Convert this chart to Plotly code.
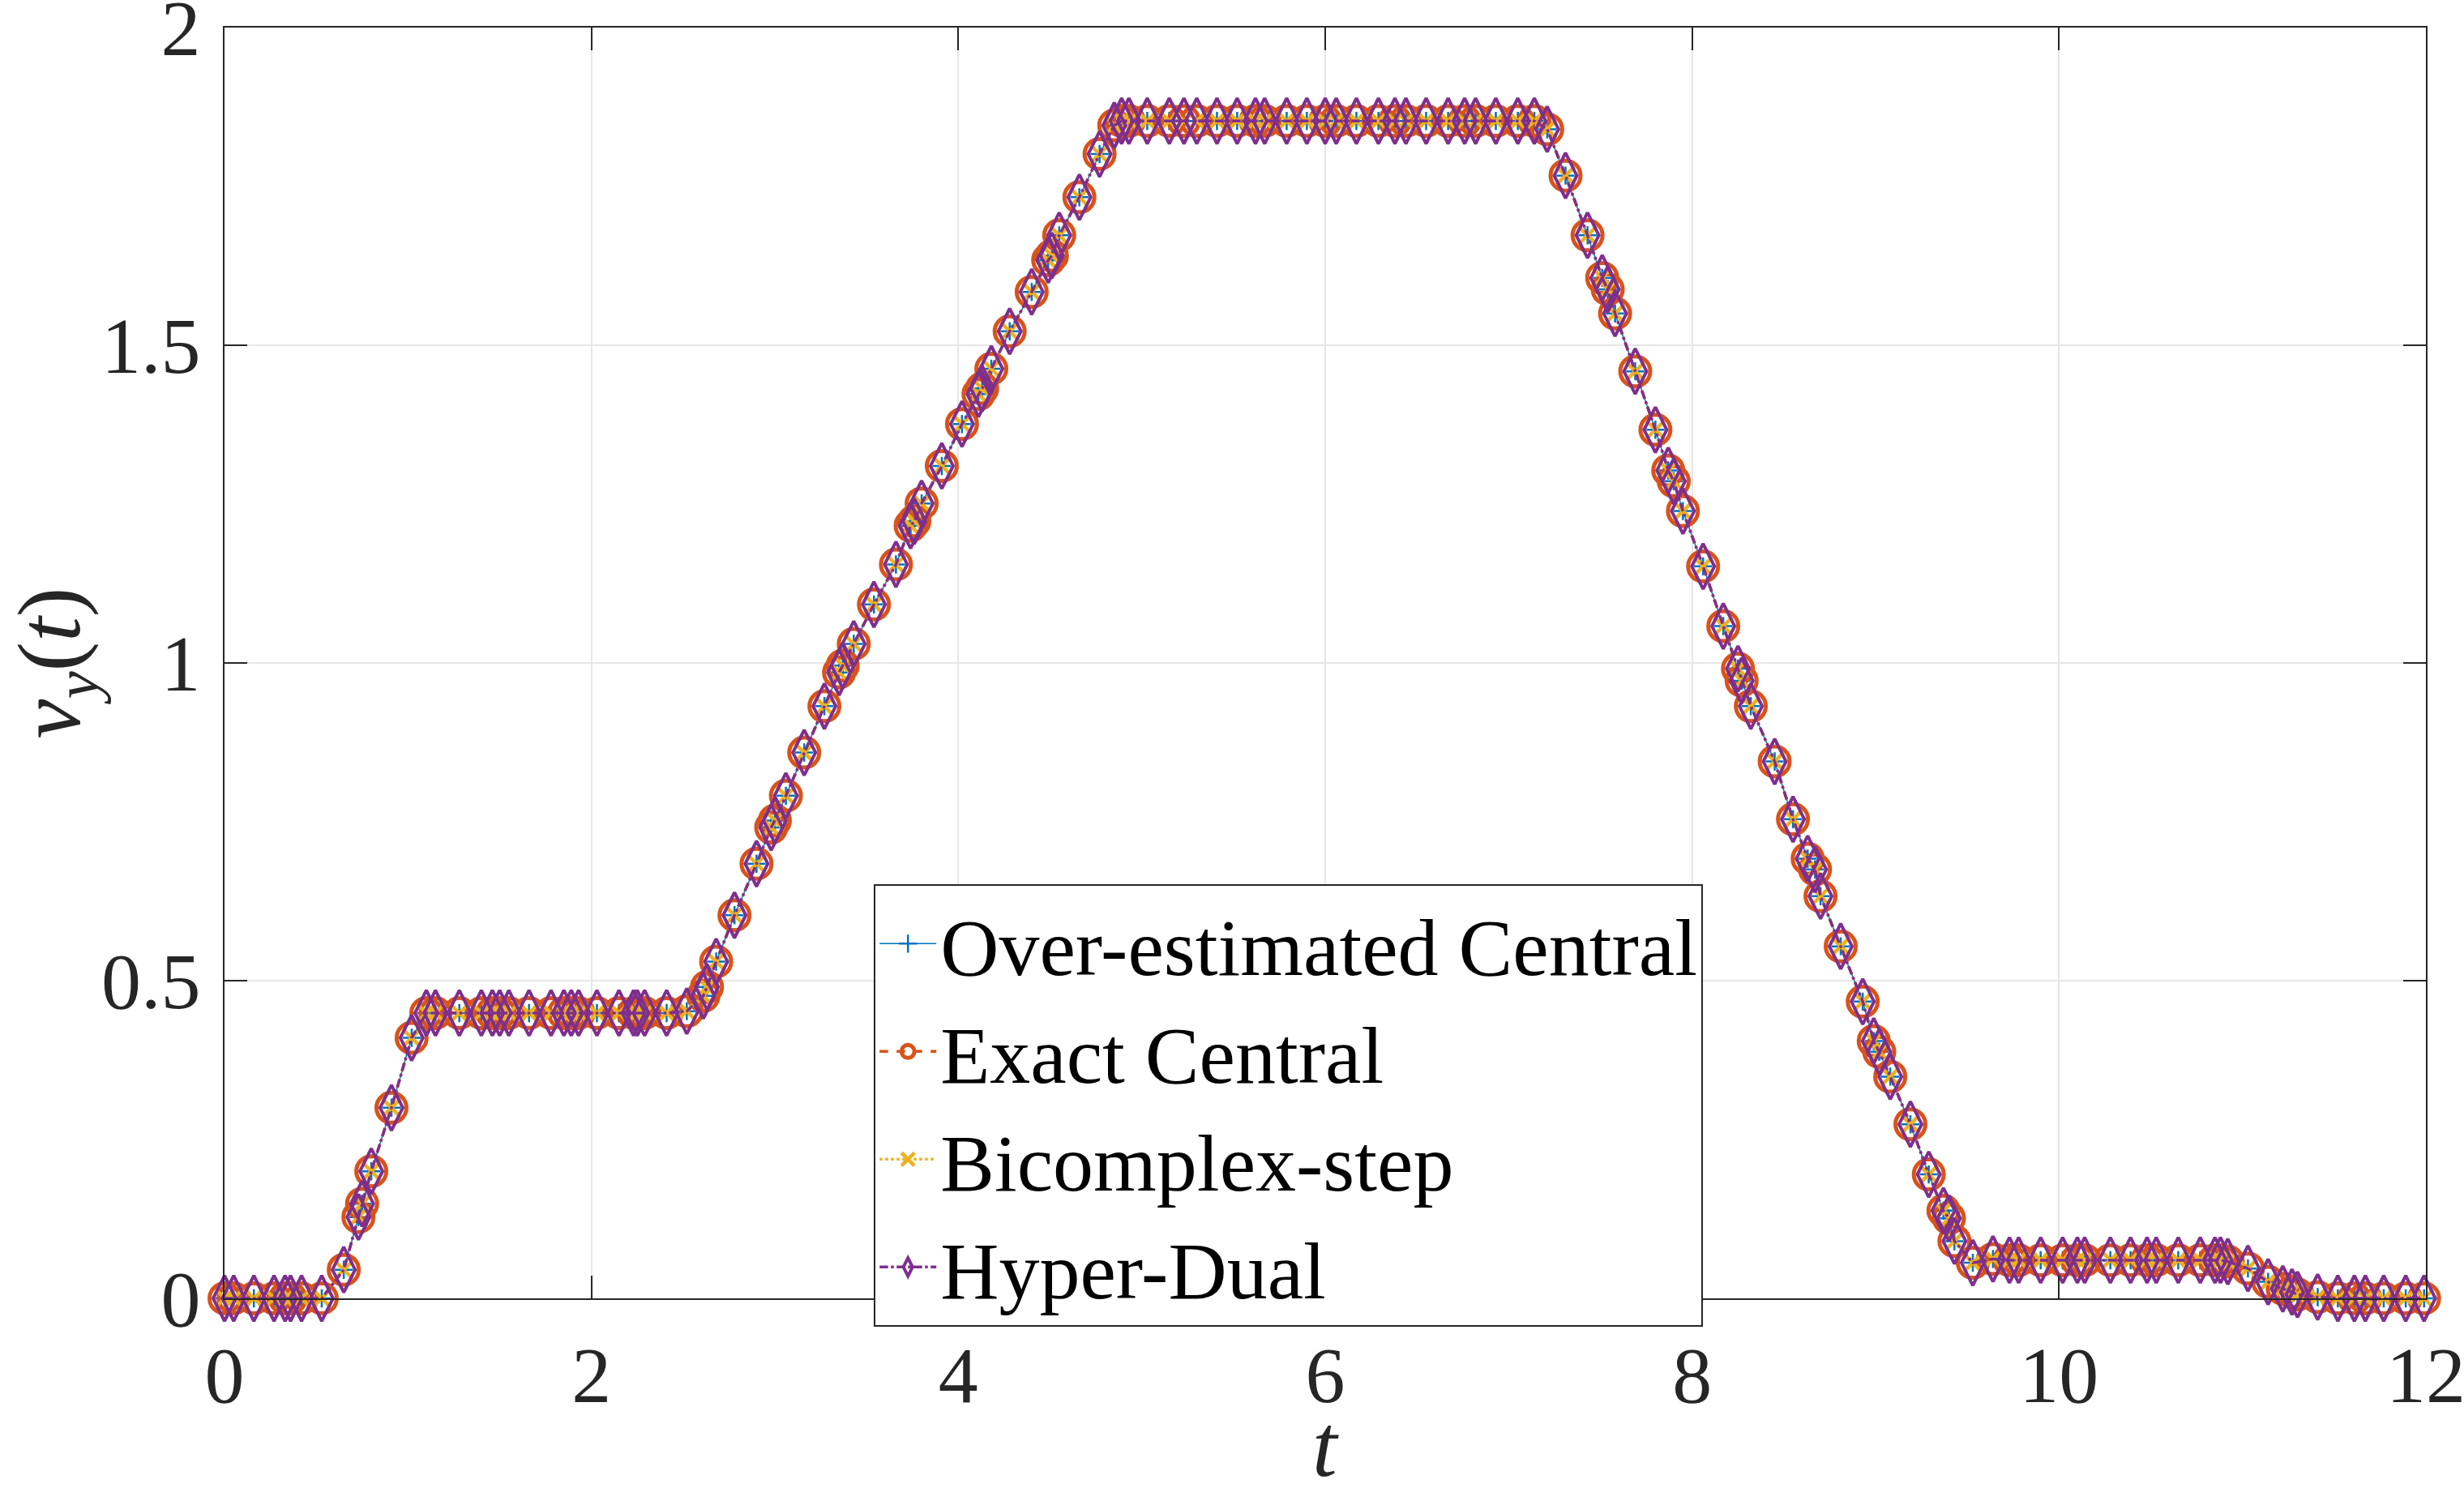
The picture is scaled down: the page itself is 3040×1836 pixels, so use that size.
import plotly.graph_objects as go

# time samples (s)
t_values = [
    0.00, 0.05, 0.16, 0.27, 0.33, 0.36, 0.42, 0.53,
    0.65, 0.73, 0.75, 0.80, 0.91, 1.02, 1.10,
    1.15, 1.28, 1.40, 1.46, 1.50, 1.55, 1.66, 1.78, 1.85, 1.89, 1.93, 2.03, 2.15, 2.23, 2.25, 2.29, 2.41,
    2.52, 2.61, 2.63, 2.68, 2.78, 2.90, 2.98, 3.00, 3.06, 3.16, 3.27, 3.35, 3.37, 3.43, 3.54, 3.66,
    3.74, 3.76, 3.80, 3.91, 4.02, 4.11, 4.13, 4.18, 4.28, 4.40, 4.49, 4.51, 4.55, 4.66, 4.77, 4.85,
    4.89, 4.93, 5.03, 5.15, 5.23, 5.30, 5.41, 5.52, 5.62, 5.67, 5.79, 5.90, 6.00, 6.06, 6.17, 6.29,
    6.38, 6.44, 6.55, 6.67, 6.76, 6.82, 6.93, 7.05, 7.14, 7.21,
    7.31, 7.43, 7.51, 7.54, 7.58, 7.69, 7.80, 7.87, 7.90, 7.95, 8.06, 8.17, 8.25, 8.27, 8.32, 8.45,
    8.55, 8.63, 8.67, 8.70, 8.81, 8.93, 8.99, 9.02, 9.08, 9.19, 9.29, 9.37, 9.40, 9.43, 9.53,
    9.64, 9.73, 9.78, 9.90, 10.02, 10.10, 10.14, 10.28, 10.39, 10.48, 10.53, 10.65, 10.77, 10.85, 10.88,
    10.92, 11.03, 11.14, 11.22, 11.27, 11.30, 11.41, 11.52, 11.61, 11.67, 11.77, 11.89, 11.99,
]

# v_y(t) values (identical for all four methods)
v_over_estimated_central = [
    0.0, 0.0, 0.0, 0.0, 0.0, 0.0, 0.0, 0.0,
    0.045, 0.128, 0.149, 0.200, 0.300, 0.410, 0.449,
    0.449, 0.449, 0.449, 0.449, 0.449, 0.449, 0.449, 0.449, 0.449, 0.449, 0.449, 0.449, 0.449, 0.449, 0.449, 0.449, 0.449,
    0.452, 0.476, 0.490, 0.530, 0.603, 0.684, 0.741, 0.752, 0.791, 0.859, 0.932, 0.985, 0.996, 1.030, 1.092, 1.155,
    1.216, 1.223, 1.251, 1.310, 1.376, 1.423, 1.432, 1.463, 1.522, 1.584, 1.634, 1.641, 1.673, 1.733, 1.801, 1.846,
    1.853, 1.853, 1.853, 1.853, 1.853, 1.853, 1.853, 1.853, 1.853, 1.853, 1.853, 1.853, 1.853, 1.853, 1.853, 1.853,
    1.853, 1.853, 1.853, 1.853, 1.853, 1.853, 1.853, 1.853, 1.853, 1.840,
    1.767, 1.673, 1.606, 1.588, 1.550, 1.459, 1.367, 1.303, 1.286, 1.239, 1.152, 1.058, 0.991, 0.972, 0.932, 0.845,
    0.754, 0.692, 0.675, 0.633, 0.554, 0.467, 0.405, 0.388, 0.349, 0.274, 0.195, 0.138, 0.126, 0.090, 0.056,
    0.062, 0.060, 0.060, 0.060, 0.060, 0.060, 0.060, 0.060, 0.060, 0.060, 0.060, 0.060, 0.060, 0.060, 0.060,
    0.058, 0.047, 0.026, 0.015, 0.010, 0.006, 0.002, 0.0, 0.0, 0.0, 0.0, 0.0, 0.0,
]
v_exact_central = list(v_over_estimated_central)
v_bicomplex_step = list(v_over_estimated_central)
v_hyper_dual = list(v_over_estimated_central)

series_names = ["Over-estimated Central", "Exact Central", "Bicomplex-step", "Hyper-Dual"]
x_ticks = [0, 2, 4, 6, 8, 10, 12]
y_ticks = [0, 0.5, 1, 1.5, 2]
y_tick_labels = ["0", "0.5", "1", "1.5", "2"]

FONT = "Liberation Serif"
AXC = "#262626"

fig = go.Figure()

fig.add_trace(go.Scatter(
    x=t_values, y=v_over_estimated_central, name=series_names[0], mode="lines+markers",
    line=dict(color="#0072BD", width=1.5, dash="solid"),
    marker=dict(symbol="cross-thin", size=16, line=dict(color="#0072BD", width=2.5)),
    cliponaxis=False,
))
fig.add_trace(go.Scatter(
    x=t_values, y=v_exact_central, name=series_names[1], mode="lines+markers",
    line=dict(color="#D95319", width=3.5, dash="dash"),
    marker=dict(symbol="circle-open", size=37, color="#D95319", line=dict(color="#D95319", width=5)),
    cliponaxis=False,
))
fig.add_trace(go.Scatter(
    x=t_values, y=v_bicomplex_step, name=series_names[2], mode="lines+markers",
    line=dict(color="#EDB120", width=3.5, dash="dot"),
    marker=dict(symbol="x-thin", size=22, line=dict(color="#EDB120", width=4.5)),
    cliponaxis=False,
))
fig.add_trace(go.Scatter(
    x=t_values, y=v_hyper_dual, name=series_names[3], mode="lines+markers",
    line=dict(color="#7E2F8E", width=3.5, dash="dashdot"),
    marker=dict(symbol="diamond-tall-open", size=40, color="#7E2F8E", line=dict(color="#7E2F8E", width=4)),
    cliponaxis=False,
))

axis_common = dict(
    showline=True, linecolor=AXC, linewidth=2, mirror="ticks",
    ticks="inside", ticklen=28, tickwidth=2, tickcolor=AXC,
    showgrid=True, gridcolor="#e6e6e6", gridwidth=2,
    zeroline=False,
    automargin=False,
    ticklabeloverflow="allow",
    tickfont=dict(family=FONT, size=98, color=AXC),
)

fig.update_xaxes(
    range=[0, 12], tickvals=x_ticks, ticktext=[str(v) for v in x_ticks],
    ticklabelstandoff=8,
    **axis_common,
)
fig.update_yaxes(
    range=[0, 2], tickvals=y_ticks, ticktext=y_tick_labels,
    ticklabelstandoff=8,
    title=dict(text="<i>v</i><sub><i>y</i></sub>(<i>t</i>)", font=dict(family=FONT, size=110, color=AXC)),
    **axis_common,
)

fig.add_annotation(
    text="<i>t</i>", xref="paper", yref="paper", x=0.5, y=-0.116,
    xanchor="center", yanchor="middle", showarrow=False,
    font=dict(family=FONT, size=110, color=AXC),
)

fig.update_layout(
    width=3040, height=1836,
    margin=dict(l=277, r=47, t=34, b=234, autoexpand=False),
    paper_bgcolor="white", plot_bgcolor="white",
    font=dict(family=FONT, color="black"),
    showlegend=True,
    legend=dict(
        x=0.295, y=0.326, xanchor="left", yanchor="top",
        bgcolor="white", bordercolor=AXC, borderwidth=2,
        font=dict(family=FONT, size=100, color="black"),
        itemwidth=70, tracegroupgap=0,
    ),
)

fig.write_html("out.html")
